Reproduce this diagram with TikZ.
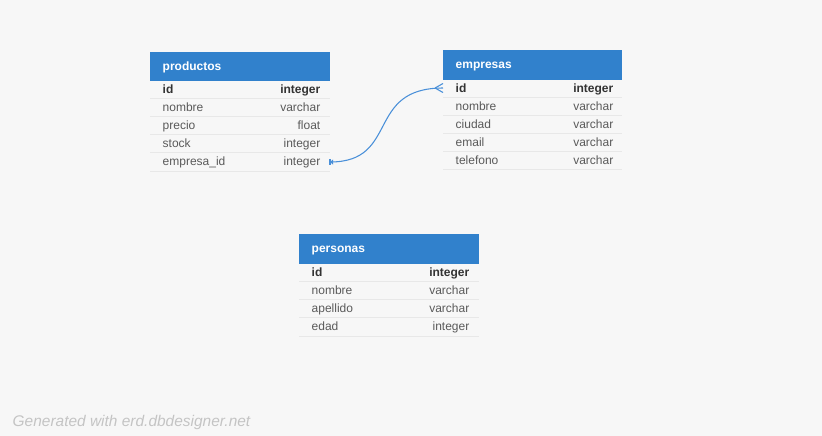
\documentclass[tikz,border=0pt]{standalone}
\usepackage{fontspec}
\setmainfont{Liberation Sans}
\usepackage{xcolor}
\definecolor{bgcol}{HTML}{F7F7F7}
\definecolor{headblue}{HTML}{3181CC}
\definecolor{rowline}{HTML}{E8E8E8}
\definecolor{keytext}{HTML}{333333}
\definecolor{coltext}{HTML}{5A5A5A}
\definecolor{linkblue}{HTML}{4A90D9}
\definecolor{footgray}{HTML}{C4C4C4}

\begin{document}
\begin{tikzpicture}[x=0.75pt,y=-0.75pt,
  head/.style={fill=headblue,draw=none},
  headtxt/.style={anchor=base west,text=white,font=\bfseries\fontsize{9}{10}\selectfont},
  keyl/.style={anchor=base west,text=keytext,font=\bfseries\fontsize{9}{10}\selectfont},
  keyr/.style={anchor=base east,text=keytext,font=\bfseries\fontsize{9}{10}\selectfont},
  coll/.style={anchor=base west,text=coltext,font=\fontsize{9}{10}\selectfont},
  colr/.style={anchor=base east,text=coltext,font=\fontsize{9}{10}\selectfont},
  sep/.style={draw=rowline,line width=0.6pt},
  link/.style={draw=linkblue,line width=0.8pt}]
\fill[bgcol] (0,0) rectangle (822,436);
\useasboundingbox (0,0) rectangle (822,436);

% productos
\fill[head] (150,52) rectangle (330,81);
\node[headtxt] (prodh) at (158,70) {productos};
\draw[sep] (150,98)--(330,98);
\draw[sep] (150,116)--(330,116);
\draw[sep] (150,134)--(330,134);
\draw[sep] (150,152)--(330,152);
\draw[sep] (150,171)--(330,171);
\node[keyl] (prodid) at (158,93) {id};
\node[keyr] (prodidt) at (325,93) {integer};
\node[coll] (prodnom) at (158,111) {nombre};
\node[colr] (prodnomt) at (325,111) {varchar};
\node[coll] (prodpre) at (158,129) {precio};
\node[colr] (prodpret) at (325,129) {float};
\node[coll] (prodsto) at (158,147) {stock};
\node[colr] (prodstot) at (325,147) {integer};
\node[coll] (prodemp) at (158,165) {empresa\_id};
\node[colr] (prodempt) at (325,165) {integer};

% empresas
\fill[head] (443,50) rectangle (622,80);
\node[headtxt] (emph) at (451,68) {empresas};
\draw[sep] (443,97)--(622,97);
\draw[sep] (443,115)--(622,115);
\draw[sep] (443,133)--(622,133);
\draw[sep] (443,151)--(622,151);
\draw[sep] (443,169)--(622,169);
\node[keyl] (empid) at (451,92) {id};
\node[keyr] (empidt) at (618,92) {integer};
\node[coll] (empnom) at (451,110) {nombre};
\node[colr] (empnomt) at (618,110) {varchar};
\node[coll] (empciu) at (451,128) {ciudad};
\node[colr] (empciut) at (618,128) {varchar};
\node[coll] (empema) at (451,146) {email};
\node[colr] (empemat) at (618,146) {varchar};
\node[coll] (emptel) at (451,164) {telefono};
\node[colr] (emptelt) at (618,164) {varchar};

% personas
\fill[head] (299,234) rectangle (479,264);
\node[headtxt] (perh) at (307,252) {personas};
\draw[sep] (299,281)--(479,281);
\draw[sep] (299,299)--(479,299);
\draw[sep] (299,317)--(479,317);
\draw[sep] (299,336)--(479,336);
\node[keyl] (perid) at (307,276) {id};
\node[keyr] (peridt) at (474,276) {integer};
\node[coll] (pernom) at (307,294) {nombre};
\node[colr] (pernomt) at (474,294) {varchar};
\node[coll] (perape) at (307,312) {apellido};
\node[colr] (perapet) at (474,312) {varchar};
\node[coll] (pereda) at (307,330) {edad};
\node[colr] (peredat) at (474,330) {integer};

% relacion empresa_id -> id
\coordinate (fkend) at (330,162);
\coordinate (pkend) at (443,88);
\coordinate (crow) at (435,88);
\draw[link] (fkend) .. controls (400,162) and (365,88) .. (pkend);
\draw[link] (crow)--(443,83.5);
\draw[link] (crow)--(443,92.5);
\fill[linkblue] (fkend)--(333,159.5)--(333,164.5)--cycle;
\draw[link] (330,159)--(330,165);

\node[anchor=base west,text=footgray,font=\itshape\fontsize{11.6}{13}\selectfont] (foot) at (8,426) {Generated with erd.dbdesigner.net};
\end{tikzpicture}
\end{document}
